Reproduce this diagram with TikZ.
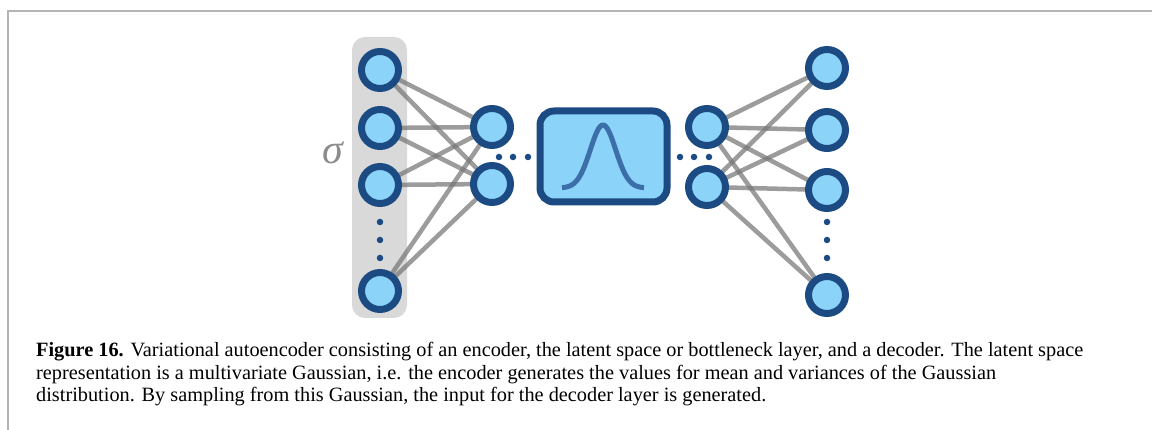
\documentclass[tikz,border=0pt]{standalone}
\usepackage{fontspec}
\setmainfont{Liberation Serif}
\pgfdeclarelayer{panel}
\pgfdeclarelayer{links}
\pgfsetlayers{panel,links,main}

\definecolor{unitfill}{HTML}{8CD3FA}
\definecolor{unitline}{HTML}{1B4B82}
\definecolor{curveblue}{HTML}{3C6FA8}
\definecolor{panelgray}{HTML}{D9D9D9}
\definecolor{linkgray}{HTML}{767676}
\definecolor{framegray}{HTML}{B4B4B4}
\definecolor{sigmagray}{HTML}{8C8C8C}

\tikzset{
  unit/.style={circle, draw=unitline, fill=unitfill, line width=7pt,
    minimum size=37pt, inner sep=0pt},
  latentbox/.style={draw=unitline, fill=unitfill, line width=7pt,
    rounded corners=14pt, minimum width=127pt, minimum height=91pt, inner sep=0pt},
  link/.style={draw=linkgray, line width=4.5pt, opacity=0.72},
  vdot/.style={circle, fill=unitline, minimum size=6.5pt, inner sep=0pt},
  captext/.style={anchor=base west, inner sep=0pt, font=\fontsize{20.3}{22.5}\selectfont}
}

\begin{document}
\begin{tikzpicture}[x=1pt, y=-1pt]
  \useasboundingbox (0,0) rectangle (1152,430);

  % page frame
  \draw[framegray, line width=1.5pt] (8,430) -- (8,11) -- (1152,11);

  % input layer
  \node[unit] (i1) at (380,70) {};
  \node[unit] (i2) at (380,128) {};
  \node[unit] (i3) at (380,185) {};
  \node[unit] (i4) at (380,291) {};
  \node[vdot] (iv1) at (380,222) {};
  \node[vdot] (iv2) at (380,240) {};
  \node[vdot] (iv3) at (380,258) {};
  \begin{pgfonlayer}{panel}
    \fill[panelgray, rounded corners=13pt] (352,37) rectangle (407,318);
  \end{pgfonlayer}
  \node[text=sigmagray, font=\fontsize{42}{42}\selectfont\itshape, inner sep=0pt] (sig) at (333,153) {σ};

  % encoder hidden layer
  \node[unit] (h1) at (492,127) {};
  \node[unit] (h2) at (492,184) {};
  \node[vdot] (ed1) at (499,157) {};
  \node[vdot] (ed2) at (513,157) {};
  \node[vdot] (ed3) at (528,157) {};

  % latent Gaussian
  \node[latentbox] (lat) at (603.5,156.5) {};
  \draw[curveblue, line width=5pt]
    plot[domain=-41:41, samples=80] ({603+\x}, {188-63*exp(-(\x*\x)/(2*12.7*12.7))});

  % decoder hidden layer
  \node[vdot] (dd1) at (680,157) {};
  \node[vdot] (dd2) at (694,157) {};
  \node[vdot] (dd3) at (709,157) {};
  \node[unit] (g1) at (707,127) {};
  \node[unit] (g2) at (707,187) {};

  % output layer
  \node[unit] (o1) at (827,68) {};
  \node[unit] (o2) at (827,130) {};
  \node[unit] (o3) at (827,190) {};
  \node[unit] (o4) at (827,295) {};
  \node[vdot] (ov1) at (827,222) {};
  \node[vdot] (ov2) at (827,240) {};
  \node[vdot] (ov3) at (827,258) {};

  % weights
  \begin{pgfonlayer}{links}
    \foreach \a in {i1,i2,i3,i4}
      \foreach \b in {h1,h2}
        \draw[link] (\a.center) -- (\b.center);
    \foreach \a in {g1,g2}
      \foreach \b in {o1,o2,o3,o4}
        \draw[link] (\a.center) -- (\b.center);
  \end{pgfonlayer}

  % caption
  \node[captext] (cap1) at (36,357) {\textbf{Figure 16.} Variational autoencoder consisting of an encoder, the latent space or bottleneck layer, and a decoder. The latent space};
  \node[captext] (cap2) at (36,379.5) {representation is a multivariate Gaussian, i.e. the encoder generates the values for mean and variances of the Gaussian};
  \node[captext] (cap3) at (36,402) {distribution. By sampling from this Gaussian, the input for the decoder layer is generated.};
\end{tikzpicture}
\end{document}
